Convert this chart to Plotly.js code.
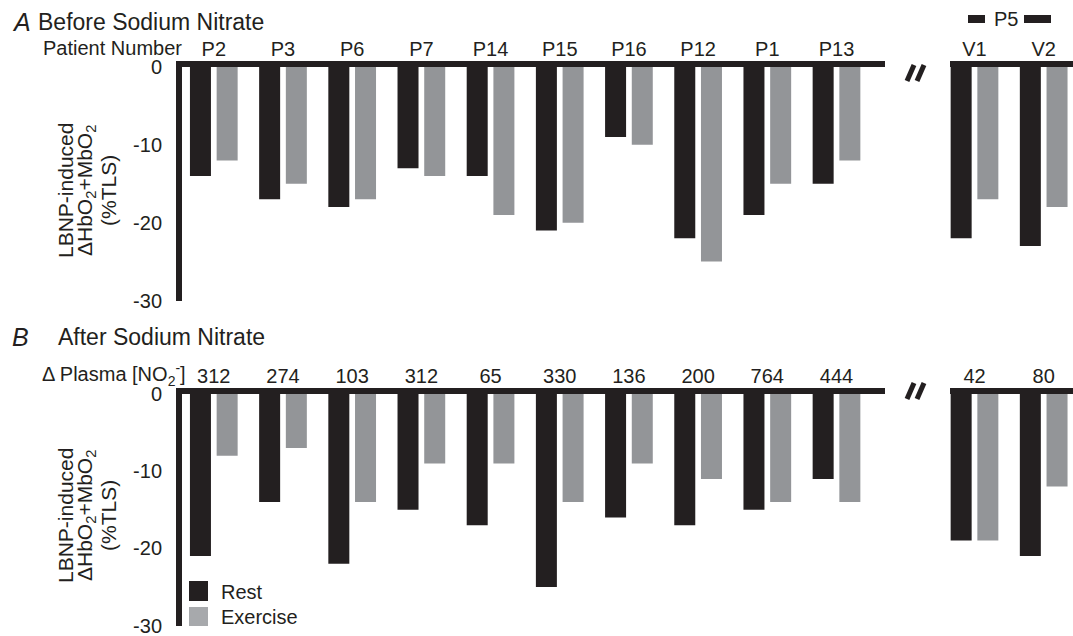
<!DOCTYPE html>
<html>
<head>
<meta charset="utf-8">
<script src="https://cdn.plot.ly/plotly-3.0.1.min.js"></script>
<style>html,body{margin:0;padding:0;background:#fff;}#chart{width:1073px;height:636px;}</style>
</head>
<body>
<div id="chart"></div>
<script>
// ---- data ----
const patients = ['P2','P3','P6','P7','P14','P15','P16','P12','P1','P13'];
const p5Visits = ['V1','V2'];
const plasmaNO2 = ['312','274','103','312','65','330','136','200','764','444'];
const plasmaNO2P5 = ['42','80'];
const restBefore = [-14,-17,-18,-13,-14,-21,-9,-22,-19,-15];
const exerciseBefore = [-12,-15,-17,-14,-19,-20,-10,-25,-15,-12];
const restBeforeP5 = [-22,-23];
const exerciseBeforeP5 = [-17,-18];
const restAfter = [-21,-14,-22,-15,-17,-25,-16,-17,-15,-11];
const exerciseAfter = [-8,-7,-14,-9,-9,-14,-9,-11,-14,-14];
const restAfterP5 = [-19,-21];
const exerciseAfterP5 = [-19,-12];
const yTickVals = [0,-10,-20,-30];
const yTickText = ['0','-10','-20','-30'];

// ---- style ----
const W = 1073, H = 636;
const px = v => v / W;
const py = v => 1 - v / H;
const INK = '#231f20';
const REST = '#231f20';
const EXER = '#939598';
const FONT = 'Liberation Sans, Arial, Helvetica, sans-serif';

function bar(x, y, name, color, xa, ya) {
  return {type:'bar', x:x, y:y, name:name, xaxis:xa, yaxis:ya,
          marker:{color:color, line:{width:0}}, showlegend:false, hoverinfo:'x+y'};
}

const data = [
  bar(patients, restBefore, 'Rest', REST, 'x', 'y'),
  bar(patients, exerciseBefore, 'Exercise', EXER, 'x', 'y'),
  bar(p5Visits, restBeforeP5, 'Rest', REST, 'x2', 'y'),
  bar(p5Visits, exerciseBeforeP5, 'Exercise', EXER, 'x2', 'y'),
  bar(patients, restAfter, 'Rest', REST, 'x3', 'y2'),
  bar(patients, exerciseAfter, 'Exercise', EXER, 'x3', 'y2'),
  bar(p5Visits, restAfterP5, 'Rest', REST, 'x4', 'y2'),
  bar(p5Visits, exerciseAfterP5, 'Exercise', EXER, 'x4', 'y2')
];

function xax(domain, range, anchor, cats, text) {
  return {domain:domain, range:range, type:'category', anchor:anchor, side:'top',
          showline:true, linewidth:6, linecolor:INK, ticks:'', showgrid:false, zeroline:false,
          tickmode:'array', tickvals:cats, ticktext:text, ticklabelstandoff:-3,
          tickfont:{size:20, color:INK, family:FONT}, fixedrange:true};
}
function yax(domain, anchor) {
  return {domain:domain, range:[-30,0], anchor:anchor, showline:true, linewidth:6, linecolor:INK,
          ticks:'', showgrid:false, zeroline:false, tickmode:'array',
          tickvals:yTickVals, ticktext:yTickText, ticklabelstandoff:10,
          ticklabeloverflow:'allow',
          tickfont:{size:20, color:INK, family:FONT}, fixedrange:true};
}

const LEFT_RANGE = [-0.4596, 9.701];
const RIGHT_RANGE = [-0.3541, 1.4236];

function txt(text, x, y, size, xanchor, extra) {
  return Object.assign({text:text, xref:'paper', yref:'paper', x:px(x), y:py(y),
    xanchor:xanchor, yanchor:'middle', showarrow:false,
    font:{size:size, color:INK, family:FONT}}, extra || {});
}

const annotations = [
  txt('<i>A</i>', 10, 22, 25, 'left'),
  txt('Before Sodium Nitrate', 36, 22, 23, 'left'),
  txt('Patient Number', 184, 48, 20, 'right'),
  txt('P5', 1006, 19, 20, 'center'),
  txt('<i>B</i>', 10, 337, 25, 'left'),
  txt('After Sodium Nitrate', 56, 337, 23, 'left'),
  txt('\u0394 Plasma [NO<sub>2</sub><sup>-</sup>]', 188, 374, 20, 'right'),
  txt('Rest', 219, 592, 20, 'left'),
  txt('Exercise', 219, 617, 20, 'left')
];
// y-axis titles (three lines each, rotated)
[[0, 191], [326, 516]].forEach(function(p){
  const cy = p[1];
  annotations.push(txt('LBNP-induced', 65, cy, 21, 'center', {textangle:-90}));
  annotations.push(txt('\u0394HbO<sub>2</sub>+MbO<sub>2</sub>', 86, cy, 21, 'center', {textangle:-90}));
  annotations.push(txt('(%TLS)', 108, cy, 21, 'center', {textangle:-90}));
});

function line(x0, y0, x1, y1, w) {
  return {type:'line', xref:'paper', yref:'paper', x0:px(x0), y0:py(y0), x1:px(x1), y1:py(y1),
          line:{color:INK, width:w}};
}
function rect(x0, y0, x1, y1, color) {
  return {type:'rect', xref:'paper', yref:'paper', x0:px(x0), y0:py(y0), x1:px(x1), y1:py(y1),
          fillcolor:color, line:{width:0}};
}
const shapes = [
  // axis break marks
  line(907, 81, 914, 65, 5), line(917, 81, 924, 65, 5),
  line(907, 399, 914, 383, 5), line(917, 399, 924, 383, 5),
  // P5 bracket bars
  line(968, 19, 985, 19, 8), line(1024, 19, 1051, 19, 8),
  // legend swatches
  rect(189, 581, 208, 601, REST), rect(189, 607, 208, 626, '#a7a9ac')
];

const layout = {
  width:W, height:H, margin:{l:0, r:0, t:0, b:0},
  paper_bgcolor:'#fff', plot_bgcolor:'#fff',
  font:{family:FONT, color:INK, size:20},
  barmode:'group', bargap:0.2282, bargroupgap:0.2135,
  showlegend:false,
  xaxis: xax([px(182), px(885)], LEFT_RANGE, 'y', patients, patients),
  xaxis2: xax([px(950), 1], RIGHT_RANGE, 'y', p5Visits, p5Visits),
  xaxis3: xax([px(182), px(885)], LEFT_RANGE, 'y2', patients, plasmaNO2),
  xaxis4: xax([px(950), 1], RIGHT_RANGE, 'y2', p5Visits, plasmaNO2P5),
  yaxis: yax([py(300.5), py(67)], 'x'),
  yaxis2: yax([py(625.5), py(394)], 'x3'),
  annotations: annotations,
  shapes: shapes
};

Plotly.newPlot('chart', data, layout, {staticPlot:true, displayModeBar:false});
</script>
</body>
</html>
